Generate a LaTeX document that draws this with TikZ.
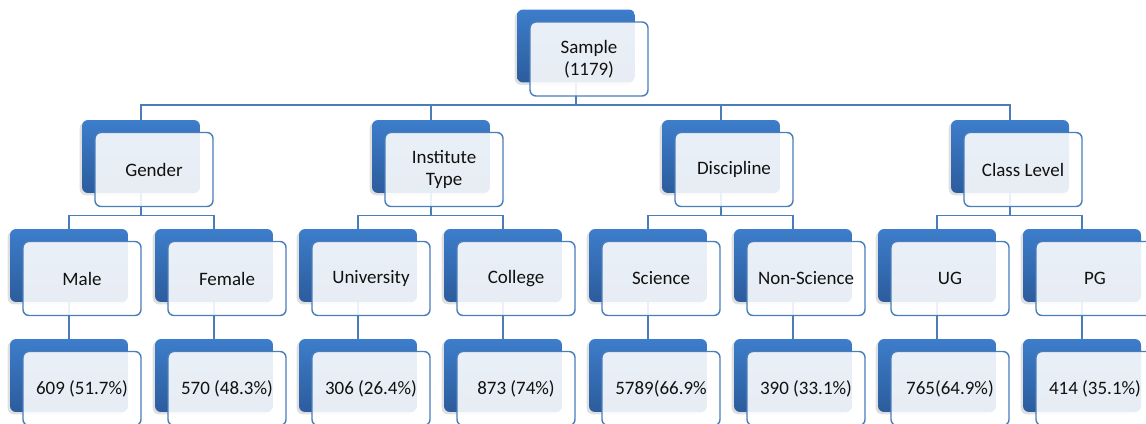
\documentclass[tikz,border=0pt]{standalone}
\usepackage{fontspec}
\setmainfont{Carlito}
\usepackage{xcolor}
\usetikzlibrary{shadows}
\definecolor{box-top}{HTML}{3D7DCB}
\definecolor{box-bottom}{HTML}{2C5C9C}
\definecolor{box-line}{HTML}{4A7EBB}
\definecolor{label-text}{HTML}{111111}

\begin{document}
\begin{tikzpicture}[x=0.02cm, y=-0.02cm,
    every node/.style={font=\fontsize{10.8}{12.6}\selectfont, text=label-text},
    back/.style={rounded corners=3.4pt, minimum width=2.36cm, minimum height=1.46cm,
      top color=box-top, bottom color=box-bottom,
      drop shadow={shadow xshift=-1.3pt, shadow yshift=-1.3pt, opacity=0.25}},
    face/.style={rounded corners=3.4pt, draw=box-line, line width=0.8pt,
      fill=white, fill opacity=0.89, text opacity=1,
      minimum width=2.36cm, minimum height=1.48cm, align=center},
    link/.style={draw=box-line, line width=0.85pt}]
    \useasboundingbox (0,0) rectangle (1146,423);
    \clip (0,0) rectangle (1146,423);
    % back boxes
    \node[back] (sample) at (576,46) {};
    \foreach \n/\x in {gen/141,ins/431,dis/721,cls/1010} {
      \node[back] (\n) at (\x,156.5) {};
    }
    \foreach \n/\x in {male/69,female/214,uni/358,col/503,sci/648,nsci/793,ug/937,pg/1082} {
      \node[back] (\n) at (\x,265.5) {};
      \node[back] (\n-v) at (\x,375.5) {};
    }
    % connectors
    \foreach \n in {gen,ins,dis,cls} {
      \draw[link] (sample.south) -- ++(0,22) -| (\n.north);
    }
    \foreach \g/\a/\b in {gen/male/female,ins/uni/col,dis/sci/nsci,cls/ug/pg} {
      \draw[link] (\g.south) -- ++(0,22) -| (\a.north);
      \draw[link] (\g.south) -- ++(0,22) -| (\b.north);
      \draw[link] (\a.south) -- (\a-v.north);
      \draw[link] (\b.south) -- (\b-v.north);
    }
    % faces
    \node[face] (sample-f) at ([shift={(13,13)}]sample.center) {Sample\\(1179)};
    \foreach \n/\t in {gen/Gender,ins/Institute\\Type,dis/Discipline,cls/Class Level} {
      \node[face] (\n-f) at ([shift={(13,13)}]\n.center) {\t};
    }
    \foreach \n/\t/\v in {male/Male/609 (51.7\%), female/Female/570 (48.3\%),
        uni/University/306 (26.4\%), col/College/873 (74\%),
        sci/Science/5789(66.9\%, nsci/Non-Science/390 (33.1\%),
        ug/UG/765(64.9\%), pg/PG/414 (35.1\%)} {
      \node[face] (\n-f) at ([shift={(13,13)}]\n.center) {\t};
      \node[face] (\n-vf) at ([shift={(13,13)}]\n-v.center) {\v};
    }
  \end{tikzpicture}
\end{document}
